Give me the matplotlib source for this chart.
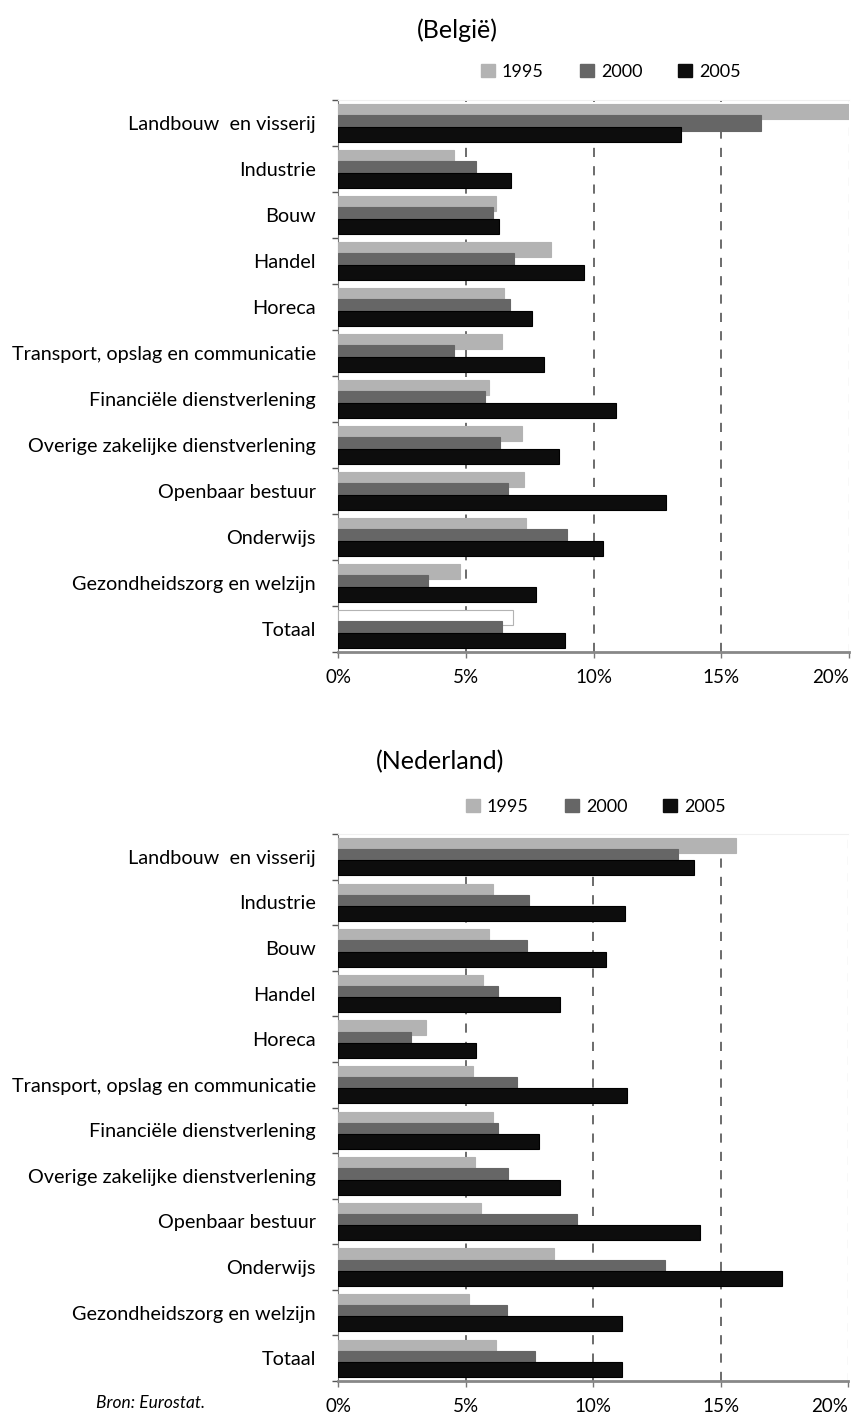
import numpy as np
import matplotlib
matplotlib.use("Agg")
import matplotlib.pyplot as plt
import matplotlib.patches as mpatches

plt.rcParams['font.family'] = ['Lato', 'DejaVu Sans']

categories = ['Landbouw  en visserij', 'Industrie', 'Bouw', 'Handel', 'Horeca',
              'Transport, opslag en communicatie', 'Financiële dienstverlening',
              'Overige zakelijke dienstverlening', 'Openbaar bestuur', 'Onderwijs',
              'Gezondheidszorg en welzijn', 'Totaal']
years = ['1995', '2000', '2005']

# Belgie, percentages
be_1995 = [20.6, 4.53, 6.20, 8.35, 6.48, 6.41, 5.90, 7.21, 7.29, 7.37, 4.77, 6.86]
be_2000 = [16.55, 5.39, 6.05, 6.88, 6.72, 4.53, 5.74, 6.33, 6.64, 8.97, 3.53, 6.41]
be_2005 = [13.44, 6.78, 6.29, 9.64, 7.60, 8.06, 10.87, 8.66, 12.83, 10.36, 7.76, 8.89]

# Nederland, percentages
nl_1995 = [15.59, 6.06, 5.94, 5.70, 3.44, 5.31, 6.06, 5.39, 5.62, 8.48, 5.15, 6.21]
nl_2000 = [13.32, 7.50, 7.42, 6.29, 2.85, 7.00, 6.29, 6.68, 9.38, 12.82, 6.61, 7.73]
nl_2005 = [13.96, 11.26, 10.50, 8.72, 5.42, 11.33, 7.89, 8.72, 14.18, 17.40, 11.12, 11.12]

xticks = [0, 5, 10, 15, 20]
xticklabels = ['0%', '5%', '10%', '15%', '20%']

colors = ['#b3b3b3', '#666666', '#0d0d0d']
edges = ['#b3b3b3', '#666666', '#000000']
W, H = 855, 1421


def panel(rect, series, white_total=False):
    ax = fig.add_axes(rect)
    n = len(categories)
    y = np.arange(n)
    offsets = [-0.245, 0.0, 0.245]
    for k, vals in enumerate(series):
        bars = ax.barh(y + offsets[k], vals, height=0.33, color=colors[k],
                       edgecolor=edges[k], linewidth=0.8, zorder=3)
        if k == 0 and white_total:
            bars[-1].set_facecolor('white')
            bars[-1].set_edgecolor('#b3b3b3')
    ax.set_xlim(0, 20)
    ax.set_ylim(n - 0.5, -0.5)
    for xv in [5, 10, 15]:
        ax.axvline(xv, color='#444444', linestyle=(0, (6, 6)), linewidth=1.1, zorder=1)
    ax.axvline(20, color='#dddddd', linestyle=(0, (6, 6)), linewidth=1.0, zorder=1)
    ax.set_xticks(xticks)
    labs = ax.set_xticklabels(xticklabels, fontsize=13.5)
    labs[-1].set_horizontalalignment('right')
    labs[-1].set_x(20.1)
    ax.tick_params(axis='x', direction='out', length=4, width=1, color='#777777', pad=8)
    ax.set_yticks(y)
    ax.set_yticklabels(categories, fontsize=14.3)
    ax.tick_params(axis='y', which='major', length=0, pad=16)
    ax.set_yticks(np.arange(n + 1) - 0.5, minor=True)
    ax.tick_params(axis='y', which='minor', direction='out', length=4, width=1, color='#555555')
    ax.spines['left'].set_color('#777777')
    ax.spines['bottom'].set_color('#888888')
    ax.spines['bottom'].set_linewidth(2)
    ax.spines['top'].set_color('#f0f0f0')
    ax.spines['right'].set_visible(False)
    return ax


fig = plt.figure(figsize=(W / 100, H / 100), dpi=100)

panel([338 / W, 1 - 652 / H, 511 / W, 552 / H], [be_1995, be_2000, be_2005], white_total=True)
panel([338 / W, 1 - 1381 / H, 510 / W, 547 / H], [nl_1995, nl_2000, nl_2005])

handles = [mpatches.Patch(color=c, label=l) for c, l in zip(colors, years)]
fig.legend(handles=handles, loc='center', bbox_to_anchor=(611 / W, 1 - 72 / H), ncol=3,
           frameon=False, fontsize=13, handlelength=0.75, handleheight=0.75,
           handletextpad=0.4, columnspacing=2.0)
fig.legend(handles=handles, loc='center', bbox_to_anchor=(596 / W, 1 - 807 / H), ncol=3,
           frameon=False, fontsize=13, handlelength=0.75, handleheight=0.75,
           handletextpad=0.4, columnspacing=2.0)

fig.text(457 / W, 1 - 30 / H, '(België)', ha='center', va='center', fontsize=18)
fig.text(440 / W, 1 - 762 / H, '(Nederland)', ha='center', va='center', fontsize=18)
fig.text(151 / W, 1 - 1403 / H, 'Bron: Eurostat.', ha='center', va='center',
         fontsize=12.5, style='italic')

fig.savefig('out.png', dpi=100)
